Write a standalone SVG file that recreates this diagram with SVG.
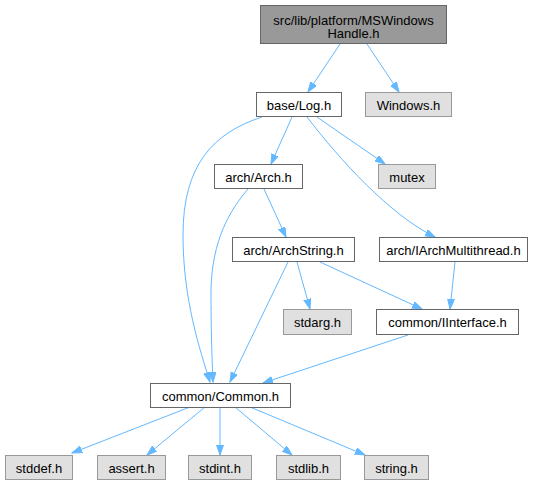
<svg xmlns="http://www.w3.org/2000/svg" width="541" height="485" viewBox="0 0 541 485">
<style>
text{font-family:"Liberation Sans",Arial,sans-serif;font-size:13px;text-anchor:middle;fill:#000}
.n rect{fill:#fff;stroke:#666}
.s rect{fill:#e0e0e0;stroke:#999}
.t rect{fill:#999;stroke:#666}
.e path{fill:none;stroke:#63b8ff;stroke-width:1;marker-end:url(#a)}
</style>
<defs>
<marker id="a" markerUnits="userSpaceOnUse" markerWidth="11" markerHeight="8" refX="10" refY="3.5" orient="auto">
<path d="M0,0 L10,3.5 L0,7 z" fill="#63b8ff" stroke="#63b8ff"/>
</marker>
</defs>
<g id="edges" class="e">
<path d="M340,44 L308,92"/>
<path d="M367,44 L399,92"/>
<path d="M262,117 C213,133 183,165 183,235 C183,300 200,350 210,382"/>
<path d="M292,117 L271,164"/>
<path d="M317,117 L385,164"/>
<path d="M307,117 C340,160 390,215 435,237"/>
<path d="M248,189 C230,210 212,240 211,290 C211,330 212,360 213,382"/>
<path d="M264,189 L286,237"/>
<path d="M288,262 L230,382"/>
<path d="M297,262 L310,309"/>
<path d="M320,262 L422,309"/>
<path d="M455,262 L450,309"/>
<path d="M408,335 L263,383"/>
<path d="M190,407 L72,453"/>
<path d="M205,407 L147,455"/>
<path d="M220,407 L220,455"/>
<path d="M235,407 L292,455"/>
<path d="M250,407 L365,455"/>
</g>
<g id="n0" class="t"><rect x="260.5" y="5.5" width="186" height="38"/><text x="353.5" y="24.5">src/lib/platform/MSWindows</text><text x="353.5" y="38">Handle.h</text></g>
<g id="n1" class="n"><rect x="256.5" y="92.5" width="85" height="24"/><text x="299" y="109.5">base/Log.h</text></g>
<g id="n2" class="s"><rect x="365.5" y="92.5" width="86" height="24"/><text x="408.5" y="109.5">Windows.h</text></g>
<g id="n3" class="n"><rect x="214.5" y="164.5" width="88" height="24"/><text x="258.5" y="181.5">arch/Arch.h</text></g>
<g id="n4" class="s"><rect x="378.5" y="164.5" width="57" height="24"/><text x="407" y="181.5">mutex</text></g>
<g id="n5" class="n"><rect x="232.5" y="237.5" width="122" height="24"/><text x="293.5" y="254.5">arch/ArchString.h</text></g>
<g id="n6" class="n"><rect x="379.5" y="237.5" width="148" height="24"/><text x="453.5" y="254.5">arch/IArchMultithread.h</text></g>
<g id="n7" class="s"><rect x="283.5" y="309.5" width="68" height="25"/><text x="317.5" y="327">stdarg.h</text></g>
<g id="n8" class="n"><rect x="376.5" y="309.5" width="142" height="25"/><text x="447.5" y="327">common/IInterface.h</text></g>
<g id="n9" class="n"><rect x="150.5" y="383.5" width="140" height="24"/><text x="220.5" y="400.5">common/Common.h</text></g>
<g id="n10" class="s"><rect x="5.5" y="455.5" width="67" height="24"/><text x="39" y="472.5">stddef.h</text></g>
<g id="n11" class="s"><rect x="97.5" y="455.5" width="68" height="24"/><text x="131.5" y="472.5">assert.h</text></g>
<g id="n12" class="s"><rect x="188.5" y="455.5" width="63" height="24"/><text x="220" y="472.5">stdint.h</text></g>
<g id="n13" class="s"><rect x="276.5" y="455.5" width="64" height="24"/><text x="308.5" y="472.5">stdlib.h</text></g>
<g id="n14" class="s"><rect x="364.5" y="455.5" width="64" height="24"/><text x="396.5" y="472.5">string.h</text></g>
</svg>
